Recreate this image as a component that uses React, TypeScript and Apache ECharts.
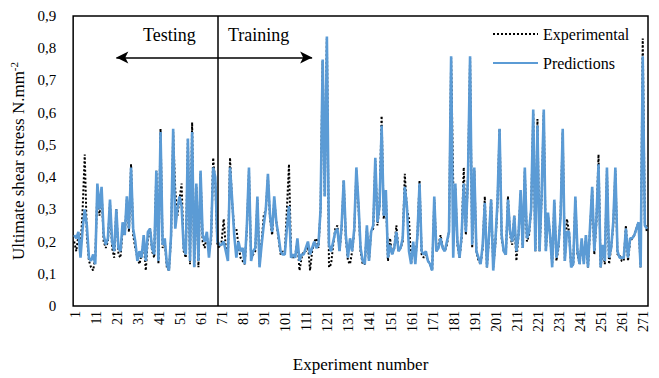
import React, { useEffect, useRef } from 'react';
import * as echarts from 'echarts';

// Experimental values (N/mm²), experiments 1..273
const experimental = [
  0.20,0.17,0.22,0.18,0.30,0.47,0.22,0.14,0.12,0.11,
  0.15,0.36,0.28,0.36,0.20,0.18,0.20,0.32,0.18,0.15,
  0.30,0.16,0.15,0.24,0.22,0.33,0.23,0.44,0.22,0.18,
  0.15,0.13,0.16,0.20,0.11,0.21,0.24,0.17,0.15,0.42,
  0.13,0.55,0.18,0.20,0.12,0.11,0.21,0.54,0.36,0.28,
  0.33,0.38,0.17,0.15,0.52,0.13,0.57,0.12,0.37,0.12,
  0.41,0.20,0.18,0.22,0.17,0.20,0.46,0.38,0.19,
  0.18,0.20,0.27,0.18,0.15,0.46,0.32,0.24,0.24,0.19,
  0.15,0.14,0.13,0.24,0.42,0.15,0.16,0.17,0.33,0.13,
  0.20,0.28,0.30,0.40,0.27,0.22,0.33,0.26,0.21,0.16,
  0.17,0.16,0.30,0.44,0.16,0.15,0.16,0.20,0.11,0.15,
  0.17,0.17,0.19,0.11,0.17,0.20,0.21,0.18,0.30,0.76,
  0.34,0.83,0.12,0.13,0.19,0.24,0.25,0.17,0.24,0.39,
  0.21,0.14,0.13,0.17,0.23,0.42,0.31,0.17,0.13,0.13,
  0.24,0.14,0.23,0.24,0.45,0.25,0.31,0.59,0.27,0.35,
  0.14,0.21,0.16,0.18,0.25,0.17,0.18,0.20,0.41,0.30,
  0.27,0.13,0.19,0.14,0.22,0.39,0.16,0.15,0.16,0.14,
  0.13,0.11,0.33,0.17,0.19,0.22,0.18,0.17,0.19,0.23,
  0.77,0.38,0.37,0.19,0.15,0.21,0.43,0.22,0.40,0.77,
  0.18,0.42,0.17,0.14,0.13,0.18,0.34,0.12,0.21,0.33,
  0.12,0.19,0.31,0.55,0.21,0.17,0.16,0.34,0.22,0.19,
  0.28,0.14,0.22,0.35,0.18,0.42,0.20,0.22,0.30,0.60,
  0.17,0.58,0.17,0.34,0.60,0.17,0.28,0.22,0.13,0.32,
  0.14,0.18,0.29,0.54,0.14,0.27,0.23,0.12,0.13,0.33,
  0.16,0.13,0.20,0.14,0.21,0.12,0.24,0.36,0.16,0.26,
  0.47,0.12,0.18,0.13,0.42,0.13,0.18,0.25,0.42,0.16,
  0.16,0.14,0.14,0.25,0.14,0.20,0.21,0.22,0.24,0.26,
  0.12,0.83,0.26,0.23,
];

// Model predictions, experiments 1..273
const predictions = [
  0.22,0.21,0.23,0.15,0.24,0.30,0.25,0.15,0.14,0.16,
  0.13,0.38,0.30,0.37,0.22,0.19,0.21,0.33,0.20,0.17,
  0.30,0.18,0.17,0.26,0.22,0.34,0.24,0.43,0.24,0.20,
  0.14,0.17,0.15,0.22,0.14,0.23,0.24,0.18,0.16,0.42,
  0.14,0.54,0.19,0.21,0.13,0.11,0.22,0.55,0.24,0.30,
  0.34,0.31,0.18,0.16,0.52,0.14,0.54,0.12,0.38,0.14,
  0.42,0.22,0.20,0.23,0.15,0.22,0.43,0.40,0.20,
  0.19,0.19,0.20,0.17,0.14,0.43,0.33,0.22,0.15,0.20,
  0.17,0.18,0.13,0.25,0.43,0.14,0.17,0.18,0.34,0.12,
  0.19,0.25,0.30,0.41,0.28,0.23,0.34,0.26,0.22,0.17,
  0.16,0.16,0.24,0.31,0.15,0.16,0.15,0.21,0.14,0.16,
  0.16,0.18,0.20,0.16,0.18,0.20,0.18,0.19,0.30,0.765,
  0.34,0.836,0.19,0.17,0.20,0.23,0.24,0.17,0.25,0.39,
  0.22,0.15,0.21,0.17,0.24,0.43,0.32,0.18,0.14,0.13,
  0.25,0.14,0.23,0.25,0.46,0.26,0.31,0.56,0.28,0.36,
  0.15,0.19,0.16,0.18,0.23,0.17,0.18,0.21,0.37,0.31,
  0.17,0.13,0.20,0.13,0.22,0.38,0.17,0.16,0.17,0.14,
  0.13,0.11,0.34,0.17,0.18,0.21,0.18,0.17,0.20,0.23,
  0.775,0.15,0.38,0.20,0.15,0.22,0.38,0.23,0.40,0.775,
  0.19,0.43,0.17,0.15,0.13,0.19,0.32,0.12,0.22,0.33,
  0.11,0.20,0.32,0.55,0.22,0.17,0.16,0.33,0.23,0.20,
  0.28,0.17,0.22,0.36,0.18,0.43,0.21,0.23,0.30,0.61,
  0.17,0.56,0.17,0.35,0.61,0.17,0.29,0.22,0.12,0.33,
  0.15,0.19,0.28,0.55,0.14,0.23,0.23,0.12,0.13,0.34,
  0.17,0.13,0.21,0.13,0.22,0.12,0.25,0.37,0.17,0.27,
  0.44,0.12,0.19,0.14,0.43,0.15,0.18,0.26,0.43,0.17,
  0.15,0.15,0.15,0.24,0.15,0.21,0.21,0.22,0.24,0.26,
  0.12,0.775,0.25,0.24,
];

const experimentNumbers = experimental.map((_, i) => String(i + 1));
// tick labels shown on the x axis (every 10th experiment)
const xTickLabels = ['1','11','21','31','41','51','61','71','81','91','101','111','121','131','141','151','161','171','181','191','201','211','221','231','241','251','261','271'];
const yTickValues = [0, 0.1, 0.2, 0.3, 0.4, 0.5, 0.6, 0.7, 0.8, 0.9];
const firstTraining = '69';
const arrowFrom = '21';
const arrowTo = '114';
const arrowLevel = 0.771;

const FONT = '"Liberation Serif", "Times New Roman", serif';

export default function App() {
  const ref = useRef<HTMLDivElement>(null);
  useEffect(() => {
    const chart = echarts.init(ref.current!, null, { renderer: 'svg' });
    chart.setOption({
      animation: false,
      backgroundColor: '#ffffff',
      grid: {
        left: 73, right: 11, top: 16, bottom: 70,
        show: true, borderColor: '#000', borderWidth: 1.5,
      },
      legend: {
        orient: 'vertical', left: 487, top: 21,
        itemWidth: 45, itemHeight: 16, itemGap: 13,
        itemStyle: { opacity: 0 },
        textStyle: { fontFamily: FONT, fontSize: 16, color: '#000' },
        data: ['Experimental', 'Predictions'],
      },
      xAxis: {
        type: 'category',
        data: experimentNumbers,
        boundaryGap: true,
        axisLine: { show: false },
        axisTick: { show: false },
        splitLine: { show: false },
        axisLabel: { show: false },
        name: 'Experiment number',
        nameLocation: 'middle',
        nameGap: 50,
        nameTextStyle: { fontFamily: FONT, fontSize: 17, color: '#000' },
      },
      yAxis: {
        type: 'value',
        min: yTickValues[0],
        max: yTickValues[yTickValues.length - 1],
        interval: 0.1,
        axisLine: { show: false },
        axisTick: { show: false },
        splitLine: { show: false },
        axisLabel: {
          margin: 17,
          fontFamily: FONT, fontSize: 15, color: '#000',
          formatter: (v: number) => (v === 0 ? '0' : v.toFixed(1).replace('.', ',')),
        },
        name: 'Ultimate shear stress N.mm{sup|-2}',
        nameLocation: 'middle',
        nameGap: 42,
        nameRotate: 90,
        nameTextStyle: {
          fontFamily: FONT, fontSize: 17, color: '#000',
          rich: { sup: { fontFamily: FONT, fontSize: 11, color: '#000', padding: [0, 0, 9, 0] } },
        },
      },
      series: [
        {
          name: 'Experimental',
          type: 'line',
          data: experimental,
          symbol: 'none',
          z: 2,
          lineStyle: { color: '#000', width: 2, type: 'dotted' },
          itemStyle: { color: '#000' },
          markLine: {
            silent: true,
            symbol: ['arrow', 'arrow'],
            symbolSize: [9, 12],
            label: { show: false },
            lineStyle: { color: '#000', width: 1.5, type: 'solid' },
            data: [[{ coord: [arrowFrom, arrowLevel] }, { coord: [arrowTo, arrowLevel] }]],
          },
        },
        {
          name: 'Predictions',
          type: 'line',
          data: predictions,
          symbol: 'none',
          z: 3,
          lineStyle: { color: '#5B9BD5', width: 2.6 },
          itemStyle: { color: '#5B9BD5' },
          markLine: {
            silent: true,
            symbol: 'none',
            label: { show: false },
            lineStyle: { color: '#000', width: 1.5, type: 'solid' },
            data: [{ xAxis: firstTraining }],
          },
        },
      ],
    });

    const axisY = chart.convertToPixel({ yAxisIndex: 0 }, 0) as number;
    const labelGraphics = xTickLabels.map((lab) => {
      const px = chart.convertToPixel({ xAxisIndex: 0 }, lab) as number;
      return {
        type: 'text',
        x: px + 1,
        y: axisY + 5,
        rotation: Math.PI / 2,
        silent: true,
        style: {
          text: lab,
          font: `14px ${FONT}`,
          fill: '#000',
          align: 'right',
          verticalAlign: 'middle',
        },
      };
    });

    chart.setOption({
      graphic: [
        { type: 'text', left: 143, top: 26, style: { text: 'Testing', font: `18px ${FONT}`, fill: '#000' } },
        { type: 'text', left: 228, top: 26, style: { text: 'Training', font: `18px ${FONT}`, fill: '#000' } },
        ...labelGraphics,
      ],
    });
    return () => chart.dispose();
  }, []);
  return <div ref={ref} style={{ position: 'fixed', left: 0, top: 0, width: 659, height: 378 }} />;
}
